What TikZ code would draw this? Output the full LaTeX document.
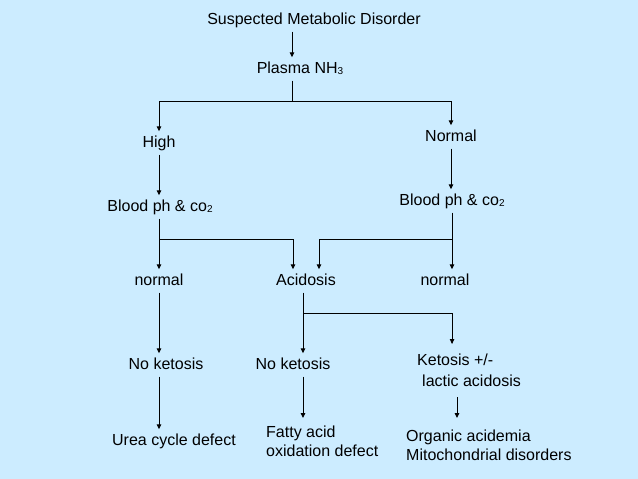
\documentclass[tikz,border=0pt]{standalone}
\usepackage{fontspec}
\setmainfont{Liberation Sans}
\usetikzlibrary{positioning, arrows.meta}
\definecolor{slidebg}{RGB}{204,236,255}
\newcommand{\lowtxt}[1]{\raisebox{-1pt}{\fontsize{10}{10}\selectfont #1}}

\begin{document}
\begin{tikzpicture}[x=1pt,y=-1pt,
  box/.style={font=\fontsize{16}{19}\selectfont, inner xsep=0pt, inner ysep=4pt, text height=12pt, text depth=3pt},
  mbox/.style={font=\fontsize{16}{19}\selectfont, align=left, anchor=north west, inner xsep=0pt},
  arr/.style={-{Triangle[length=5pt,width=4.5pt]}, line width=0.9pt},
  lin/.style={line width=0.9pt}]
\fill[slidebg] (0,0) rectangle (638,479);
% columns of the connectors
\coordinate (tx) at (292,0);
\coordinate (kx) at (457,0);
% nodes
\node[box] (susp) at (314,20) {Suspected Metabolic Disorder};
\node[box] (plasma) at (300,69) {Plasma NH\lowtxt{3}};
\node[box] (high) at (159,143) {High};
\node[box] (normA) at (451,137) {Normal};
\node[box] (bloodL) at (160,207) {Blood ph \& co\lowtxt{2}};
\node[box] (bloodR) at (452,201) {Blood ph \& co\lowtxt{2}};
\node[box] (normL) at (159,281) {normal};
\node[box] (acid) at (306,281) {Acidosis};
\node[box] (normR) at (445,281) {normal};
\node[box] (nkL) at (166,365) {No ketosis};
\node[box] (nkM) at (293,365) {No ketosis};
\node[mbox, inner ysep=10pt, font=\fontsize{16}{21}\selectfont] (keto) at (417,344) {Ketosis +/-\\\hspace*{5pt}lactic acidosis};
\node[box] (urea) at (174,441) {Urea cycle defect};
\node[mbox, inner ysep=8pt] (fatty) at (266,418) {Fatty acid\\oxidation defect};
\node[mbox, inner ysep=12pt] (organic) at (406,418) {Organic acidemia\\Mitochondrial disorders};
% splits
\coordinate (split1) at (292,101);
\coordinate (split2) at (159,239);
\coordinate (split3) at (452,239);
\coordinate (split4) at (303,313);
% connectors
\draw[arr] (susp.south -| tx) -- (plasma.north -| tx);
\draw[lin] (plasma.south -| tx) -- (split1);
\draw[arr] (split1) -| (high);
\draw[arr] (split1) -| (normA);
\draw[arr] (high) -- (high |- bloodL.north);
\draw[arr] (normA) -- (normA |- bloodR.north);
\draw[lin] (bloodL.south -| split2) -- (split2);
\draw[arr] (split2) -- (normL);
\draw[arr] (split2) -| ([xshift=-13pt]acid.north);
\draw[lin] (bloodR.south -| split3) -- (split3);
\draw[arr] (split3) -| ([xshift=13pt]acid.north);
\draw[arr] (split3) -- (normR.north -| split3);
\draw[lin] (acid.south -| split4) -- (split4);
\draw[arr] (split4) -- (nkM.north -| split4);
\draw[arr] (split4) -| ([xshift=-17pt]keto.north);
\draw[arr] (normL) -- (nkL.north -| normL);
\draw[arr] (nkL.south -| normL) -- (urea.north -| normL);
\draw[arr] (nkM.south -| split4) -- (fatty.north -| split4);
\draw[arr] (keto.south -| kx) -- (organic.north -| kx);
\end{tikzpicture}
\end{document}
